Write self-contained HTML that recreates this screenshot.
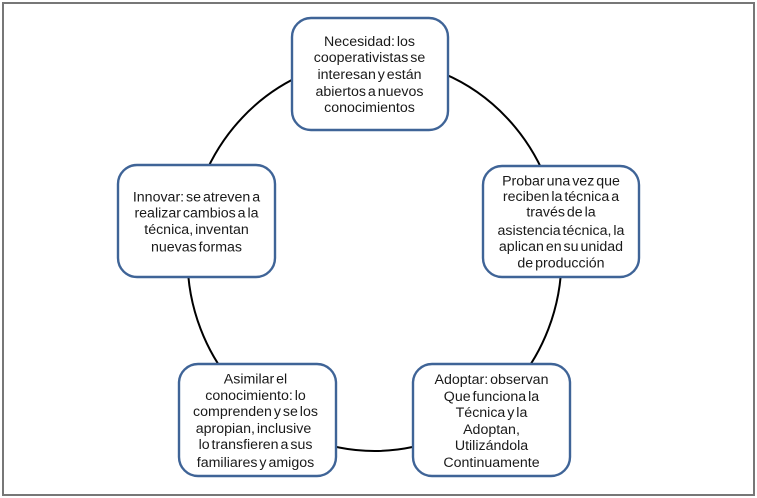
<!DOCTYPE html>
<html><head><meta charset="utf-8"><style>
html,body{margin:0;padding:0;background:#fff}
body{width:757px;height:498px;overflow:hidden;position:relative}
svg{position:absolute;left:0;top:0}
text{font-family:"Liberation Sans",sans-serif;font-size:14.2px;word-spacing:-2px;fill:#1a1a1a;text-anchor:middle}
</style></head><body>
<svg width="757" height="498" viewBox="0 0 757 498">
<rect width="757" height="498" fill="#fff"/>
<rect x="3" y="3" width="751" height="492" fill="#fff" stroke="#777" stroke-width="2"/>
<path d="M187.500 258A187 198.500 0 0 1 561.500 258A187 193 0 0 1 187.500 258Z" fill="none" stroke="#000" stroke-width="2"/>
<g fill="#fff" stroke="#3f6497" stroke-width="2.400">
<rect x="292" y="18" width="156" height="112" rx="19"/>
<rect x="483" y="166" width="156" height="111" rx="19"/>
<rect x="413" y="364" width="157" height="112" rx="19"/>
<rect x="179" y="364" width="157" height="112" rx="19"/>
<rect x="118" y="165" width="157" height="112" rx="19"/>
</g>
<text x="369.500" y="46">Necesidad: los</text>
<text x="369.500" y="62">cooperativistas se</text>
<text x="369.500" y="79">interesan y están</text>
<text x="369.500" y="96">abiertos a nuevos</text>
<text x="369.500" y="112">conocimientos</text>
<text x="561" y="185.500">Probar una vez que</text>
<text x="561" y="201">reciben la técnica a</text>
<text x="561" y="216.500">través de la</text>
<text x="561" y="235">asistencia técnica, la</text>
<text x="561" y="251">aplican en su unidad</text>
<text x="561" y="267.500">de producción</text>
<text x="491.500" y="384">Adoptar: observan</text>
<text x="491.500" y="401">Que funciona la</text>
<text x="491.500" y="417">Técnica y la</text>
<text x="491.500" y="434">Adoptan,</text>
<text x="491.500" y="450">Utilizándola</text>
<text x="491.500" y="467">Continuamente</text>
<text x="255.500" y="383.500">Asimilar el</text>
<text x="255.500" y="400">conocimiento: lo</text>
<text x="255.500" y="416">comprenden y se los</text>
<text x="253.500" y="433">apropian, inclusive</text>
<text x="255.500" y="449">lo transfieren a sus</text>
<text x="255.500" y="467">familiares y amigos</text>
<text x="196.500" y="201.500">Innovar: se atreven a</text>
<text x="196.500" y="217.500">realizar cambios a la</text>
<text x="196.500" y="234">técnica, inventan</text>
<text x="196.500" y="251.500">nuevas formas</text>
</svg>
</body></html>
